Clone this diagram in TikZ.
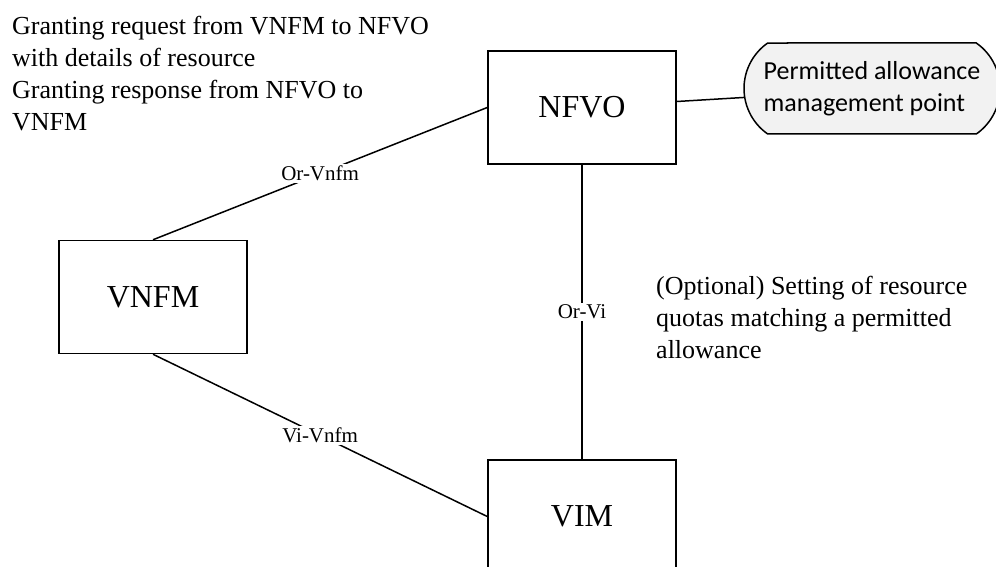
\documentclass[tikz,border=0pt]{standalone}
\usepackage{fontspec}
\setmainfont{Liberation Serif}
\newfontfamily\calibri{Carlito}
\usetikzlibrary{shapes.misc}

\tikzstyle{block} = [draw, rectangle, line width=1.5pt, minimum width=188pt, minimum height=113pt, inner sep=0, font=\fontsize{32}{38}\selectfont]
\tikzstyle{linklabel} = [midway, fill=white, inner sep=2pt, font=\fontsize{21}{25}\selectfont]
\tikzstyle{note} = [anchor=west, align=left, inner sep=0, font=\fontsize{26}{32}\selectfont]
\tikzstyle{permbox} = [draw, rounded rectangle, rounded rectangle arc length=110, line width=1.5pt, fill=black!5, minimum width=256pt, minimum height=91pt, align=left, inner sep=0, font=\calibri\fontsize{26}{32}\selectfont]

\begin{document}
\begin{tikzpicture}[x=1pt, y=-1pt]
\clip (0,0) rectangle (996,567);

% BLOCKS
\node[block] (nfvo) at (582,107.5) {NFVO};
\node[block] (vnfm) at (153,297) {VNFM};
\node[block] (vim) at (582,516.5) {VIM};
\node[permbox] (perm) at (872,88.5) {Permitted allowance\\management point};

% LINKS
\draw[line width=1.5pt] (vnfm.north) -- node[linklabel] {Or-Vnfm} (nfvo.west);
\draw[line width=1.5pt] (vnfm.south) -- node[linklabel] {Vi-Vnfm} (vim.west);
\draw[line width=1.5pt] (nfvo.south) -- node[linklabel] {Or-Vi} (vim.north);
\draw[line width=1.5pt] ([yshift=6pt]nfvo.east) -- (perm.184);

% NOTES
\node[note] (grant) at (12,73.5) {Granting request from VNFM to NFVO\\with details of resource\\Granting response from NFVO to\\VNFM};
\node[note] (quota) at (656,317.5) {(Optional) Setting of resource\\quotas matching a permitted\\allowance};
\end{tikzpicture}
\end{document}
